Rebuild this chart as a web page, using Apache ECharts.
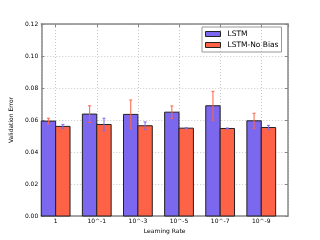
<!DOCTYPE html>
<html><head><meta charset="utf-8">
<script src="https://cdn.jsdelivr.net/npm/echarts@6/dist/echarts.min.js"></script>
<style>html,body{margin:0;padding:0;background:#fff}#c{width:320px;height:240px}</style>
</head><body><div id="c"></div>
<script>
const categories = ['1', '10^-1', '10^-3', '10^-5', '10^-7', '10^-9'];
const lstmValues = [0.0593, 0.0637, 0.0635, 0.0649, 0.0689, 0.0595];
const lstmErrors = [0.0018, 0.0052, 0.0090, 0.0039, 0.0090, 0.0047];
const noBiasValues = [0.0560, 0.0572, 0.0564, 0.0549, 0.0547, 0.0553];
const noBiasErrors = [0.0012, 0.0039, 0.0024, 0.0003, 0.0003, 0.0013];
const seriesNames = ['LSTM', 'LSTM-No Bias'];

const BAR_W = 0.35;
const C_LSTM = '#7B68EE';
const C_NB = '#FF6347';
const FONT = 'DejaVu Sans';

function barRenderer(offset, color) {
  return function (params, api) {
    const i = api.value(0), v = api.value(1);
    const p0 = api.coord([i + offset, v]);
    const p1 = api.coord([i + offset + BAR_W, 0]);
    return {
      type: 'rect',
      shape: { x: p0[0], y: p0[1], width: p1[0] - p0[0], height: p1[1] - p0[1] },
      style: { fill: color, stroke: '#222', lineWidth: 1 }
    };
  };
}
function errRenderer(offset, color) {
  return function (params, api) {
    const i = api.value(0), v = api.value(1), e = api.value(2);
    const x = i + offset + BAR_W / 2;
    const t = api.coord([x, v + e]), b = api.coord([x, v - e]);
    const cap = 1.5;
    const st = { stroke: color, lineWidth: 1.2, opacity: 0.85 };
    return {
      type: 'group',
      children: [
        { type: 'line', shape: { x1: t[0], y1: t[1], x2: b[0], y2: b[1] }, style: st },
        { type: 'line', shape: { x1: t[0] - cap, y1: t[1], x2: t[0] + cap, y2: t[1] }, style: st },
        { type: 'line', shape: { x1: b[0] - cap, y1: b[1], x2: b[0] + cap, y2: b[1] }, style: st }
      ]
    };
  };
}

const lstmData = lstmValues.map((v, i) => [i, v, lstmErrors[i]]);
const nbData = noBiasValues.map((v, i) => [i, v, noBiasErrors[i]]);

function isInt(v) { return Math.abs(v - Math.round(v)) < 1e-6; }

const chart = echarts.init(document.getElementById('c'), null, { renderer: 'canvas' });
const axisLineStyle = { color: '#888', width: 1.5 };
const splitStyle = { color: '#c8c8c8', type: [1, 2], width: 1 };
chart.setOption({
  animation: false,
  textStyle: { fontFamily: FONT },
  grid: { left: 39.5, right: 32, top: 24, bottom: 24, show: false },
  legend: {
    data: seriesNames.map(n => ({ name: n, icon: 'rect' })),
    orient: 'vertical',
    left: 202, top: 27,
    padding: [3, 3, 3, 3],
    itemWidth: 15, itemHeight: 5, itemGap: 3,
    borderColor: '#999', borderWidth: 1,
    itemStyle: { borderColor: '#222', borderWidth: 1 },
    textStyle: { fontSize: 7.5, fontFamily: FONT, color: '#000', padding: [0, 0, 0, 2] }
  },
  xAxis: [{
    type: 'value', min: -0.35, max: 5.65, minInterval: 1, maxInterval: 1,
    name: 'Learning Rate', nameLocation: 'middle', nameGap: 9,
    nameTextStyle: { fontSize: 6, fontFamily: FONT, color: '#000' },
    axisLine: { show: true, onZero: false, lineStyle: axisLineStyle },
    axisTick: { show: true, inside: true, length: 3, lineStyle: { color: '#888' } },
    axisLabel: { fontSize: 6, color: '#000', margin: 2, showMinLabel: false, showMaxLabel: false,
      formatter: v => (isInt(v) && v >= 0 && v < categories.length) ? categories[Math.round(v)] : '' },
    splitLine: { show: true, lineStyle: splitStyle }
  }, {
    type: 'value', position: 'top', min: -0.35, max: 5.65, minInterval: 1, maxInterval: 1,
    axisLine: { show: true, onZero: false, lineStyle: axisLineStyle },
    axisTick: { show: true, inside: true, length: 3, lineStyle: { color: '#888' } },
    axisLabel: { show: false }, splitLine: { show: false }
  }],
  yAxis: [{
    type: 'value', min: 0, max: 0.12, interval: 0.02,
    name: 'Validation Error', nameLocation: 'middle', nameGap: 16, nameRotate: 90,
    nameTextStyle: { fontSize: 6, fontFamily: FONT, color: '#000' },
    axisLine: { show: true, onZero: false, lineStyle: axisLineStyle },
    axisTick: { show: true, inside: true, length: 3, lineStyle: { color: '#888' } },
    axisLabel: { fontSize: 6, color: '#000', margin: 3, formatter: v => v.toFixed(2) },
    splitLine: { show: true, lineStyle: splitStyle }
  }, {
    type: 'value', position: 'right', min: 0, max: 0.12, interval: 0.02,
    axisLine: { show: true, onZero: false, lineStyle: axisLineStyle },
    axisTick: { show: true, inside: true, length: 3, lineStyle: { color: '#888' } },
    axisLabel: { show: false }, splitLine: { show: false }
  }],
  series: [
    { name: seriesNames[0], type: 'custom', data: lstmData, renderItem: barRenderer(-BAR_W, C_LSTM),
      itemStyle: { color: C_LSTM }, encode: { x: 0, y: 1 }, z: 2 },
    { name: seriesNames[1], type: 'custom', data: nbData, renderItem: barRenderer(0, C_NB),
      itemStyle: { color: C_NB }, encode: { x: 0, y: 1 }, z: 2 },
    { name: 'lstmErr', type: 'custom', data: lstmData, renderItem: errRenderer(-BAR_W, C_NB),
      encode: { x: 0, y: [1, 2] }, z: 3, silent: true },
    { name: 'nbErr', type: 'custom', data: nbData, renderItem: errRenderer(0, C_LSTM),
      encode: { x: 0, y: [1, 2] }, z: 3, silent: true }
  ]
});
</script></body></html>
